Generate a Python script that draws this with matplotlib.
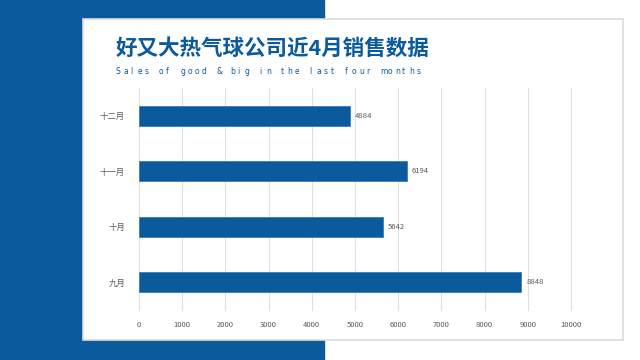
import matplotlib
matplotlib.use('Agg')
import matplotlib.pyplot as plt
from matplotlib.patches import Rectangle

plt.rcParams['font.family'] = ['Noto Sans CJK SC', 'DejaVu Sans']

months = ['九月', '十月', '十一月', '十二月']
sales = [8848, 5642, 6194, 4884]
title = '好又大热气球公司近4月销售数据'
subtitle = 'Sales of good & big in the last four months'

blue = '#0a5a9c'
grey = '#595959'

fig = plt.figure(figsize=(6.4, 3.6), dpi=100)

# background: blue left half, white card on top
fig.patches.append(Rectangle((0, 0), 324/640, 1, transform=fig.transFigure,
                             color=blue, zorder=0))
fig.patches.append(Rectangle((83/640, 20/360), 540/640, 321/360, transform=fig.transFigure,
                             facecolor='white', edgecolor='#dcdcdc', lw=1.2, zorder=1))

fig.text(116/640, 1 - 48/360, title, fontsize=15.5, fontweight='bold', color=blue,
         va='center', ha='left', zorder=3)
# spaced-out subtitle
x0 = 116/640
dx = 7.15/640
for i, ch in enumerate(subtitle):
    fig.text(x0 + i*dx, 1 - 71/360, ch, fontsize=5.5, color=blue, family='DejaVu Sans',
             va='center', ha='left', zorder=3)

ax = fig.add_axes([139/640, 1 - 310/360, 432/640, 222/360], zorder=2)
ax.patch.set_alpha(0)
ypos = range(len(months))
bars = ax.barh(ypos, sales, height=0.36, color=blue, edgecolor='#3a7cc0', linewidth=0.6, zorder=3)
for y, v in zip(ypos, sales):
    ax.text(v + 120, y, str(v), va='center', ha='left', fontsize=5.5, color=grey)

ax.set_xlim(0, 10000)
ax.set_ylim(-0.5, 3.5)
ax.set_xticks(range(0, 10001, 1000))
ax.set_yticks(list(ypos))
ax.set_yticklabels(months)
ax.tick_params(axis='x', length=0, labelsize=5.5, labelcolor=grey, pad=8)
ax.tick_params(axis='y', length=0, labelsize=6, labelcolor=grey, pad=10)
ax.grid(axis='x', color='#e0e0e0', linewidth=0.8, zorder=0)
for line in ax.get_xgridlines():
    line.set_clip_on(False)
for s in ax.spines.values():
    s.set_visible(False)

fig.savefig('out.png', dpi=100)
